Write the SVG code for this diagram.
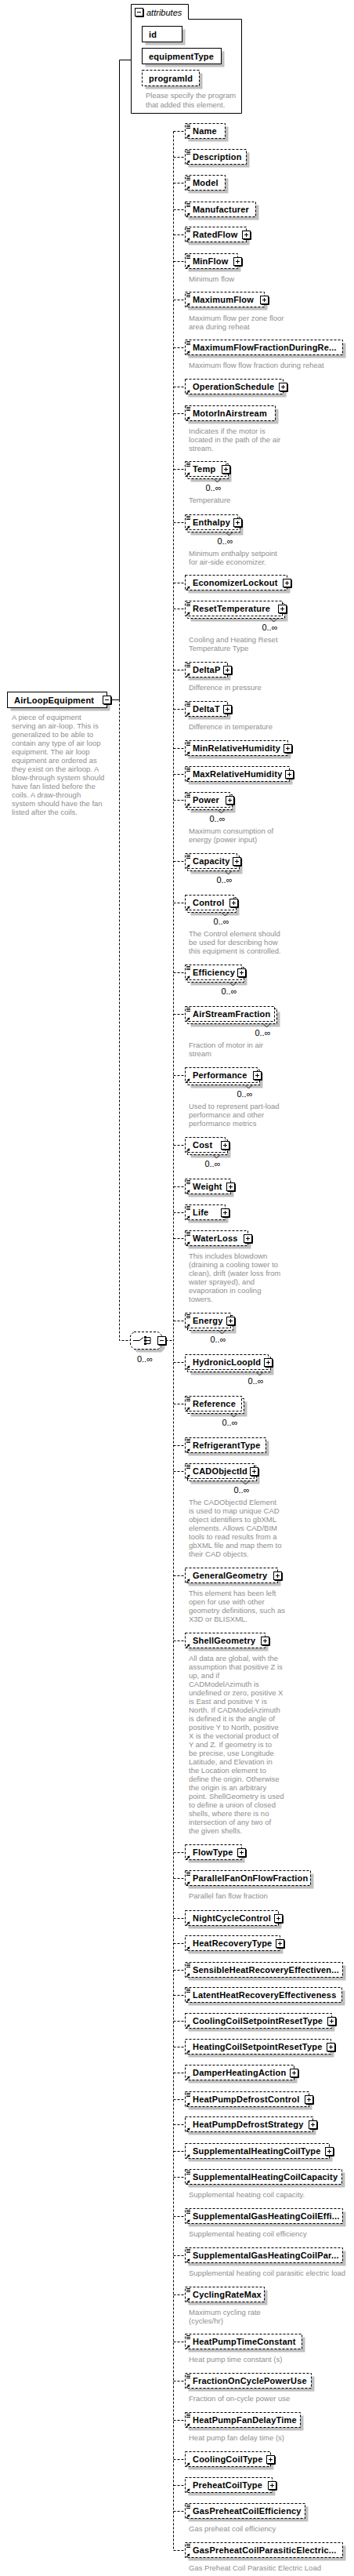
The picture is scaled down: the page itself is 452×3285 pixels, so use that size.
<svg xmlns="http://www.w3.org/2000/svg" width="452" height="3285" viewBox="0 0 452 3285">
<style>
.sh{fill:#c0c0c0}
.bx{fill:#fff;stroke:#000;stroke-width:1}
.d{stroke-dasharray:3 2}
.l{font-family:"Liberation Sans",Arial,sans-serif;font-size:11px;font-weight:bold;letter-spacing:0.2px;fill:#000}
.ds{font-family:"Liberation Sans",Arial,sans-serif;font-size:9.5px;fill:#8f8f8f}
.m{font-family:"Liberation Sans",Arial,sans-serif;font-size:11px;fill:#000;text-anchor:end}
.it{font-family:"Liberation Sans",Arial,sans-serif;font-size:11px;font-style:italic;fill:#000}
.c{fill:none;stroke:#000;stroke-width:1}
.nt{fill:none;stroke:#000;stroke-width:0.8}
</style>
<defs>
<g id="ln"><path d="M0 1.5h5M0 3.5h5M0 5.5h5" stroke="#000" stroke-width="1"/></g>
<g id="ar"><path d="M1 6L4 3" stroke="#000" stroke-width="1.3"/><path d="M5.5 1.5L2 2.2L4.8 5Z" fill="#000"/></g>
<g id="pl"><rect x="0.5" y="0.5" width="10" height="10" fill="#fff" stroke="#000"/><path d="M1.5 11.5H11.5V1.5" fill="none" stroke="#000"/><path d="M3 5.5h5M5.5 3v5" stroke="#000"/></g>
<g id="mn"><rect x="0.5" y="0.5" width="10" height="10" fill="#fff" stroke="#000"/><path d="M1.5 11.5H11.5V1.5" fill="none" stroke="#000"/><path d="M3 5.5h5" stroke="#000"/></g>
</defs>
<rect width="452" height="3285" fill="#fff"/>
<g id="connectors">
<path class="c" d="M152.5 76.5H167.5M152.5 76.5V892.5M136.5 892.5H152.5"/>
<path class="c d" d="M152.5 892.5V1709.5H166.5M211.5 1709.5H221.5"/>
<path class="c d" d="M221.5 167.5V3252.5"/>
<path class="c d" d="M221.5 167.5H236.5M221.5 200.5H236.5M221.5 233.5H236.5M221.5 267.5H236.5M221.5 299.5H236.5M221.5 333.5H236.5M221.5 382.5H236.5M221.5 443.5H236.5M221.5 493.5H236.5M221.5 527.5H236.5M221.5 598.5H236.5M221.5 666.5H236.5M221.5 743.5H236.5M221.5 776.5H236.5M221.5 854.5H236.5M221.5 904.5H236.5M221.5 954.5H236.5M221.5 987.5H236.5M221.5 1020.5H236.5M221.5 1098.5H236.5M221.5 1151.5H236.5M221.5 1240.5H236.5M221.5 1293.5H236.5M221.5 1371.5H236.5M221.5 1460.5H236.5M221.5 1513.5H236.5M221.5 1546.5H236.5M221.5 1579.5H236.5M221.5 1684.5H236.5M221.5 1737.5H236.5M221.5 1790.5H236.5M221.5 1843.5H236.5M221.5 1876.5H236.5M221.5 2009.5H236.5M221.5 2092.5H236.5M221.5 2362.5H236.5M221.5 2395.5H236.5M221.5 2446.5H236.5M221.5 2478.5H236.5M221.5 2512.5H236.5M221.5 2544.5H236.5M221.5 2577.5H236.5M221.5 2610.5H236.5M221.5 2643.5H236.5M221.5 2677.5H236.5M221.5 2709.5H236.5M221.5 2743.5H236.5M221.5 2776.5H236.5M221.5 2826.5H236.5M221.5 2876.5H236.5M221.5 2926.5H236.5M221.5 2986.5H236.5M221.5 3036.5H236.5M221.5 3086.5H236.5M221.5 3136.5H236.5M221.5 3169.5H236.5M221.5 3202.5H236.5M221.5 3252.5H236.5"/>
</g>
<g id="attributes">
<path d="M167.5 5.5H240.5V24.5H308.5V144.5H167.5Z" fill="#fff" stroke="#000"/>
<use href="#mn" x="172" y="10"/>
<text class="it" x="187" y="19.5">attributes</text>
<g id="attr-id"><rect class="sh" x="185.5" y="37.5" width="51" height="20"/><rect class="bx" x="181.5" y="33.5" width="51" height="20"/><text class="l" x="190" y="47.5">id</text></g>
<g id="attr-equipmentType"><rect class="sh" x="185.5" y="65.5" width="101" height="20"/><rect class="bx" x="181.5" y="61.5" width="101" height="20"/><text class="l" x="190" y="75.5">equipmentType</text></g>
<g id="attr-programId"><rect class="sh" x="185.5" y="93.5" width="73" height="20"/><rect class="bx d" x="181.5" y="89.5" width="73" height="20"/><text class="l" x="190" y="103.5">programId</text></g>
<text class="ds" x="186" y="124.7">Please specify the program</text>
<text class="ds" x="186" y="137.3">that added this element.</text>
</g>
<g id="AirLoopEquipment">
<rect class="sh" x="13.5" y="886.5" width="127" height="20"/>
<rect class="bx" x="9.5" y="882.5" width="127" height="20"/>
<text class="l" x="18" y="896.5">AirLoopEquipment</text>
<use href="#mn" x="131" y="887"/>
<text class="ds" x="15" y="917.5">A piece of equipment</text>
<text class="ds" x="15" y="928.5">serving an air-loop. This is</text>
<text class="ds" x="15" y="939.5">generalized to be able to</text>
<text class="ds" x="15" y="950.5">contain any type of air loop</text>
<text class="ds" x="15" y="961.5">equipment. The air loop</text>
<text class="ds" x="15" y="972.5">equipment are ordered as</text>
<text class="ds" x="15" y="983.5">they exist on the airloop. A</text>
<text class="ds" x="15" y="994.5">blow-through system should</text>
<text class="ds" x="15" y="1005.5">have fan listed before the</text>
<text class="ds" x="15" y="1016.5">coils. A draw-through</text>
<text class="ds" x="15" y="1027.5">system should have the fan</text>
<text class="ds" x="15" y="1038.5">listed after the coils.</text>
</g>
<g id="choice">
<polygon class="sh" points="175,1702.5 206,1702.5 210.5,1707 210.5,1720 206,1724.5 175,1724.5 170.5,1720 170.5,1707"/>
<polygon class="bx d" points="171,1698.5 202,1698.5 206.5,1703 206.5,1716 202,1720.5 171,1720.5 166.5,1716 166.5,1703"/>
<path d="M170 1709.5h8l5-4" fill="none" stroke="#000"/>
<rect x="184" y="1704" width="3" height="3" fill="#000"/><rect x="184" y="1708" width="3" height="3" fill="#000"/><rect x="184" y="1712" width="3" height="3" fill="#000"/>
<path d="M187 1705.5h5M187 1709.5h5M187 1713.5h5M192 1705.5v8" fill="none" stroke="#000"/>
<use href="#mn" x="201" y="1704"/>
<text class="m" x="195" y="1737">0..∞</text>
</g>
<g id="el-Name"><rect class="sh" x="240.5" y="161.5" width="51" height="19"/><rect class="bx d" x="236.5" y="157.5" width="51" height="19"/><use href="#ln" x="238" y="158"/><use href="#ar" x="237" y="170"/><text class="l" x="246" y="171">Name</text></g>
<g id="el-Description"><rect class="sh" x="240.5" y="194.5" width="78" height="19"/><rect class="bx d" x="236.5" y="190.5" width="78" height="19"/><use href="#ln" x="238" y="191"/><use href="#ar" x="237" y="203"/><text class="l" x="246" y="204">Description</text></g>
<g id="el-Model"><rect class="sh" x="240.5" y="227.5" width="51" height="19"/><rect class="bx d" x="236.5" y="223.5" width="51" height="19"/><use href="#ln" x="238" y="224"/><use href="#ar" x="237" y="236"/><text class="l" x="246" y="237">Model</text></g>
<g id="el-Manufacturer"><rect class="sh" x="240.5" y="261.5" width="90" height="19"/><rect class="bx d" x="236.5" y="257.5" width="90" height="19"/><use href="#ln" x="238" y="258"/><use href="#ar" x="237" y="270"/><text class="l" x="246" y="271">Manufacturer</text></g>
<g id="el-RatedFlow"><rect class="sh" x="240.5" y="293.5" width="78" height="19"/><rect class="bx d" x="236.5" y="289.5" width="78" height="19"/><use href="#ln" x="238" y="290"/><use href="#ar" x="237" y="302"/><text class="l" x="246" y="303">RatedFlow</text><use href="#pl" x="309" y="294"/></g>
<g id="el-MinFlow"><rect class="sh" x="240.5" y="327.5" width="67" height="19"/><rect class="bx d" x="236.5" y="323.5" width="67" height="19"/><use href="#ln" x="238" y="324"/><use href="#ar" x="237" y="336"/><text class="l" x="246" y="337">MinFlow</text><use href="#pl" x="298" y="328"/><text class="ds" x="241" y="358.5">Minimum flow</text></g>
<g id="el-MaximumFlow"><rect class="sh" x="240.5" y="376.5" width="101" height="19"/><rect class="bx d" x="236.5" y="372.5" width="101" height="19"/><use href="#ln" x="238" y="373"/><use href="#ar" x="237" y="385"/><text class="l" x="246" y="386">MaximumFlow</text><use href="#pl" x="332" y="377"/><text class="ds" x="241" y="408.5">Maximum flow per zone floor</text><text class="ds" x="241" y="419.5">area during reheat</text></g>
<g id="el-MaximumFlowFractionDuringReheat"><rect class="sh" x="240.5" y="437.5" width="201" height="19"/><rect class="bx d" x="236.5" y="433.5" width="201" height="19"/><use href="#ln" x="238" y="434"/><use href="#ar" x="237" y="446"/><text class="l" x="246" y="447">MaximumFlowFractionDuringRe...</text><text class="ds" x="241" y="468.5">Maximum flow flow fraction during reheat</text></g>
<g id="el-OperationSchedule"><rect class="sh" x="240.5" y="487.5" width="125" height="19"/><rect class="bx d" x="236.5" y="483.5" width="125" height="19"/><use href="#ar" x="237" y="496"/><text class="l" x="246" y="497">OperationSchedule</text><use href="#pl" x="356" y="488"/></g>
<g id="el-MotorInAirstream"><rect class="sh" x="240.5" y="521.5" width="115" height="19"/><rect class="bx d" x="236.5" y="517.5" width="115" height="19"/><use href="#ln" x="238" y="518"/><use href="#ar" x="237" y="530"/><text class="l" x="246" y="531">MotorInAirstream</text><text class="ds" x="241" y="552.5">Indicates if the motor is</text><text class="ds" x="241" y="563.5">located in the path of the air</text><text class="ds" x="241" y="574.5">stream.</text></g>
<g id="el-Temp"><rect class="sh" x="243.5" y="595.5" width="52" height="19"/><rect class="bx d" x="239.5" y="591.5" width="52" height="19"/><rect class="bx d" x="236.5" y="588.5" width="52" height="19"/><use href="#ln" x="238" y="589"/><use href="#ar" x="237" y="601"/><text class="l" x="246" y="602">Temp</text><use href="#pl" x="283" y="593"/><path class="nt" d="M273.5 611l4 4 4-4"/><text class="m" x="282.5" y="626">0..∞</text><text class="ds" x="241" y="640.5">Temperature</text></g>
<g id="el-Enthalpy"><rect class="sh" x="243.5" y="663.5" width="67" height="19"/><rect class="bx d" x="239.5" y="659.5" width="67" height="19"/><rect class="bx d" x="236.5" y="656.5" width="67" height="19"/><use href="#ln" x="238" y="657"/><use href="#ar" x="237" y="669"/><text class="l" x="246" y="670">Enthalpy</text><use href="#pl" x="298" y="661"/><path class="nt" d="M288.5 679l4 4 4-4"/><text class="m" x="297.5" y="694">0..∞</text><text class="ds" x="241" y="708.5">Minimum enthalpy setpoint</text><text class="ds" x="241" y="719.5">for air-side economizer.</text></g>
<g id="el-EconomizerLockout"><rect class="sh" x="240.5" y="737.5" width="130" height="19"/><rect class="bx d" x="236.5" y="733.5" width="130" height="19"/><use href="#ar" x="237" y="746"/><text class="l" x="246" y="747">EconomizerLockout</text><use href="#pl" x="361" y="738"/></g>
<g id="el-ResetTemperature"><rect class="sh" x="243.5" y="773.5" width="124" height="19"/><rect class="bx d" x="239.5" y="769.5" width="124" height="19"/><rect class="bx d" x="236.5" y="766.5" width="124" height="19"/><use href="#ln" x="238" y="767"/><use href="#ar" x="237" y="779"/><text class="l" x="246" y="780">ResetTemperature</text><use href="#pl" x="355" y="771"/><path class="nt" d="M345.5 789l4 4 4-4"/><text class="m" x="354.5" y="804">0..∞</text><text class="ds" x="241" y="818.5">Cooling and Heating Reset</text><text class="ds" x="241" y="829.5">Temperature Type</text></g>
<g id="el-DeltaP"><rect class="sh" x="240.5" y="848.5" width="54" height="19"/><rect class="bx d" x="236.5" y="844.5" width="54" height="19"/><use href="#ln" x="238" y="845"/><use href="#ar" x="237" y="857"/><text class="l" x="246" y="858">DeltaP</text><use href="#pl" x="285" y="849"/><text class="ds" x="241" y="879.5">Difference in pressure</text></g>
<g id="el-DeltaT"><rect class="sh" x="240.5" y="898.5" width="54" height="19"/><rect class="bx d" x="236.5" y="894.5" width="54" height="19"/><use href="#ln" x="238" y="895"/><use href="#ar" x="237" y="907"/><text class="l" x="246" y="908">DeltaT</text><use href="#pl" x="285" y="899"/><text class="ds" x="241" y="929.5">Difference in temperature</text></g>
<g id="el-MinRelativeHumidity"><rect class="sh" x="240.5" y="948.5" width="131" height="19"/><rect class="bx d" x="236.5" y="944.5" width="131" height="19"/><use href="#ln" x="238" y="945"/><use href="#ar" x="237" y="957"/><text class="l" x="246" y="958">MinRelativeHumidity</text><use href="#pl" x="362" y="949"/></g>
<g id="el-MaxRelativeHumidity"><rect class="sh" x="240.5" y="981.5" width="133" height="19"/><rect class="bx d" x="236.5" y="977.5" width="133" height="19"/><use href="#ln" x="238" y="978"/><use href="#ar" x="237" y="990"/><text class="l" x="246" y="991">MaxRelativeHumidity</text><use href="#pl" x="364" y="982"/></g>
<g id="el-Power"><rect class="sh" x="243.5" y="1017.5" width="57" height="19"/><rect class="bx d" x="239.5" y="1013.5" width="57" height="19"/><rect class="bx d" x="236.5" y="1010.5" width="57" height="19"/><use href="#ln" x="238" y="1011"/><use href="#ar" x="237" y="1023"/><text class="l" x="246" y="1024">Power</text><use href="#pl" x="288" y="1015"/><path class="nt" d="M278.5 1033l4 4 4-4"/><text class="m" x="287.5" y="1048">0..∞</text><text class="ds" x="241" y="1062.5">Maximum consumption of</text><text class="ds" x="241" y="1073.5">energy (power input)</text></g>
<g id="el-Capacity"><rect class="sh" x="243.5" y="1095.5" width="66" height="19"/><rect class="bx d" x="239.5" y="1091.5" width="66" height="19"/><rect class="bx d" x="236.5" y="1088.5" width="66" height="19"/><use href="#ln" x="238" y="1089"/><use href="#ar" x="237" y="1101"/><text class="l" x="246" y="1102">Capacity</text><use href="#pl" x="297" y="1093"/><path class="nt" d="M287.5 1111l4 4 4-4"/><text class="m" x="296.5" y="1126">0..∞</text></g>
<g id="el-Control"><rect class="sh" x="243.5" y="1148.5" width="62" height="19"/><rect class="bx d" x="239.5" y="1144.5" width="62" height="19"/><rect class="bx d" x="236.5" y="1141.5" width="62" height="19"/><use href="#ar" x="237" y="1154"/><text class="l" x="246" y="1155">Control</text><use href="#pl" x="293" y="1146"/><path class="nt" d="M283.5 1164l4 4 4-4"/><text class="m" x="292.5" y="1179">0..∞</text><text class="ds" x="241" y="1193.5">The Control element should</text><text class="ds" x="241" y="1204.5">be used for describing how</text><text class="ds" x="241" y="1215.5">this equipment is controlled.</text></g>
<g id="el-Efficiency"><rect class="sh" x="243.5" y="1237.5" width="72" height="19"/><rect class="bx d" x="239.5" y="1233.5" width="72" height="19"/><rect class="bx d" x="236.5" y="1230.5" width="72" height="19"/><use href="#ln" x="238" y="1231"/><use href="#ar" x="237" y="1243"/><text class="l" x="246" y="1244">Efficiency</text><use href="#pl" x="303" y="1235"/><path class="nt" d="M293.5 1253l4 4 4-4"/><text class="m" x="302.5" y="1268">0..∞</text></g>
<g id="el-AirStreamFraction"><rect class="sh" x="243.5" y="1290.5" width="114" height="19"/><rect class="bx d" x="239.5" y="1286.5" width="114" height="19"/><rect class="bx d" x="236.5" y="1283.5" width="114" height="19"/><use href="#ln" x="238" y="1284"/><use href="#ar" x="237" y="1296"/><text class="l" x="246" y="1297">AirStreamFraction</text><path class="nt" d="M336.5 1306l4 4 4-4"/><text class="m" x="345.5" y="1321">0..∞</text><text class="ds" x="241" y="1335.5">Fraction of motor in air</text><text class="ds" x="241" y="1346.5">stream</text></g>
<g id="el-Performance"><rect class="sh" x="243.5" y="1368.5" width="92" height="19"/><rect class="bx d" x="239.5" y="1364.5" width="92" height="19"/><rect class="bx d" x="236.5" y="1361.5" width="92" height="19"/><use href="#ar" x="237" y="1374"/><text class="l" x="246" y="1375">Performance</text><use href="#pl" x="323" y="1366"/><path class="nt" d="M313.5 1384l4 4 4-4"/><text class="m" x="322.5" y="1399">0..∞</text><text class="ds" x="241" y="1413.5">Used to represent part-load</text><text class="ds" x="241" y="1424.5">performance and other</text><text class="ds" x="241" y="1435.5">performance metrics</text></g>
<g id="el-Cost"><rect class="sh" x="243.5" y="1457.5" width="51" height="19"/><rect class="bx d" x="239.5" y="1453.5" width="51" height="19"/><rect class="bx d" x="236.5" y="1450.5" width="51" height="19"/><use href="#ar" x="237" y="1463"/><text class="l" x="246" y="1464">Cost</text><use href="#pl" x="282" y="1455"/><path class="nt" d="M272.5 1473l4 4 4-4"/><text class="m" x="281.5" y="1488">0..∞</text></g>
<g id="el-Weight"><rect class="sh" x="240.5" y="1507.5" width="58" height="19"/><rect class="bx d" x="236.5" y="1503.5" width="58" height="19"/><use href="#ln" x="238" y="1504"/><use href="#ar" x="237" y="1516"/><text class="l" x="246" y="1517">Weight</text><use href="#pl" x="289" y="1508"/></g>
<g id="el-Life"><rect class="sh" x="240.5" y="1540.5" width="51" height="19"/><rect class="bx d" x="236.5" y="1536.5" width="51" height="19"/><use href="#ln" x="238" y="1537"/><use href="#ar" x="237" y="1549"/><text class="l" x="246" y="1550">Life</text><use href="#pl" x="282" y="1541"/></g>
<g id="el-WaterLoss"><rect class="sh" x="240.5" y="1573.5" width="80" height="19"/><rect class="bx d" x="236.5" y="1569.5" width="80" height="19"/><use href="#ln" x="238" y="1570"/><use href="#ar" x="237" y="1582"/><text class="l" x="246" y="1583">WaterLoss</text><use href="#pl" x="311" y="1574"/><text class="ds" x="241" y="1604.5">This includes blowdown</text><text class="ds" x="241" y="1615.5">(draining a cooling tower to</text><text class="ds" x="241" y="1626.5">clean), drift (water loss from</text><text class="ds" x="241" y="1637.5">water sprayed), and</text><text class="ds" x="241" y="1648.5">evaporation in cooling</text><text class="ds" x="241" y="1659.5">towers.</text></g>
<g id="el-Energy"><rect class="sh" x="243.5" y="1681.5" width="58" height="19"/><rect class="bx d" x="239.5" y="1677.5" width="58" height="19"/><rect class="bx d" x="236.5" y="1674.5" width="58" height="19"/><use href="#ln" x="238" y="1675"/><use href="#ar" x="237" y="1687"/><text class="l" x="246" y="1688">Energy</text><use href="#pl" x="289" y="1679"/><path class="nt" d="M279.5 1697l4 4 4-4"/><text class="m" x="288.5" y="1712">0..∞</text></g>
<g id="el-HydronicLoopId"><rect class="sh" x="243.5" y="1734.5" width="106" height="19"/><rect class="bx d" x="239.5" y="1730.5" width="106" height="19"/><rect class="bx d" x="236.5" y="1727.5" width="106" height="19"/><use href="#ar" x="237" y="1740"/><text class="l" x="246" y="1741">HydronicLoopId</text><use href="#pl" x="337" y="1732"/><path class="nt" d="M327.5 1750l4 4 4-4"/><text class="m" x="336.5" y="1765">0..∞</text></g>
<g id="el-Reference"><rect class="sh" x="243.5" y="1787.5" width="72" height="19"/><rect class="bx d" x="239.5" y="1783.5" width="72" height="19"/><rect class="bx d" x="236.5" y="1780.5" width="72" height="19"/><use href="#ln" x="238" y="1781"/><use href="#ar" x="237" y="1793"/><text class="l" x="246" y="1794">Reference</text><path class="nt" d="M294.5 1803l4 4 4-4"/><text class="m" x="303.5" y="1818">0..∞</text></g>
<g id="el-RefrigerantType"><rect class="sh" x="240.5" y="1837.5" width="103" height="19"/><rect class="bx d" x="236.5" y="1833.5" width="103" height="19"/><use href="#ln" x="238" y="1834"/><use href="#ar" x="237" y="1846"/><text class="l" x="246" y="1847">RefrigerantType</text></g>
<g id="el-CADObjectId"><rect class="sh" x="243.5" y="1873.5" width="88" height="19"/><rect class="bx d" x="239.5" y="1869.5" width="88" height="19"/><rect class="bx d" x="236.5" y="1866.5" width="88" height="19"/><use href="#ln" x="238" y="1867"/><use href="#ar" x="237" y="1879"/><text class="l" x="246" y="1880">CADObjectId</text><use href="#pl" x="319" y="1871"/><path class="nt" d="M309.5 1889l4 4 4-4"/><text class="m" x="318.5" y="1904">0..∞</text><text class="ds" x="241" y="1918.5">The CADObjectId Element</text><text class="ds" x="241" y="1929.5">is used to map unique CAD</text><text class="ds" x="241" y="1940.5">object identifiers to gbXML</text><text class="ds" x="241" y="1951.5">elements. Allows CAD/BIM</text><text class="ds" x="241" y="1962.5">tools to read results from a</text><text class="ds" x="241" y="1973.5">gbXML file and map them to</text><text class="ds" x="241" y="1984.5">their CAD objects.</text></g>
<g id="el-GeneralGeometry"><rect class="sh" x="240.5" y="2003.5" width="118" height="19"/><rect class="bx d" x="236.5" y="1999.5" width="118" height="19"/><use href="#ar" x="237" y="2012"/><text class="l" x="246" y="2013">GeneralGeometry</text><use href="#pl" x="349" y="2004"/><text class="ds" x="241" y="2034.5">This element has been left</text><text class="ds" x="241" y="2045.5">open for use with other</text><text class="ds" x="241" y="2056.5">geometry definitions, such as</text><text class="ds" x="241" y="2067.5">X3D or BLISXML.</text></g>
<g id="el-ShellGeometry"><rect class="sh" x="240.5" y="2086.5" width="102" height="19"/><rect class="bx d" x="236.5" y="2082.5" width="102" height="19"/><use href="#ar" x="237" y="2095"/><text class="l" x="246" y="2096">ShellGeometry</text><use href="#pl" x="333" y="2087"/>
<text class="ds" x="241" y="2117.5">All data are global, with the</text>
<text class="ds" x="241" y="2128.5">assumption that positive Z is</text>
<text class="ds" x="241" y="2139.5">up, and if</text>
<text class="ds" x="241" y="2150.5">CADModelAzimuth is</text>
<text class="ds" x="241" y="2161.5">undefined or zero, positive X</text>
<text class="ds" x="241" y="2172.5">is East and positive Y is</text>
<text class="ds" x="241" y="2183.5">North. If CADModelAzimuth</text>
<text class="ds" x="241" y="2194.5">is defined it is the angle of</text>
<text class="ds" x="241" y="2205.5">positive Y to North, positive</text>
<text class="ds" x="241" y="2216.5">X is the vectorial product of</text>
<text class="ds" x="241" y="2227.5">Y and Z. If geometry is to</text>
<text class="ds" x="241" y="2238.5">be precise, use Longitude</text>
<text class="ds" x="241" y="2249.5">Latitude, and Elevation in</text>
<text class="ds" x="241" y="2260.5">the Location element to</text>
<text class="ds" x="241" y="2271.5">define the origin. Otherwise</text>
<text class="ds" x="241" y="2282.5">the origin is an arbitrary</text>
<text class="ds" x="241" y="2293.5">point. ShellGeometry is used</text>
<text class="ds" x="241" y="2304.5">to define a union of closed</text>
<text class="ds" x="241" y="2315.5">shells, where there is no</text>
<text class="ds" x="241" y="2326.5">intersection of any two of</text>
<text class="ds" x="241" y="2337.5">the given shells.</text></g>
<g id="el-FlowType"><rect class="sh" x="240.5" y="2356.5" width="72" height="19"/><rect class="bx d" x="236.5" y="2352.5" width="72" height="19"/><use href="#ar" x="237" y="2365"/><text class="l" x="246" y="2366">FlowType</text><use href="#pl" x="303" y="2357"/></g>
<g id="el-ParallelFanOnFlowFraction"><rect class="sh" x="240.5" y="2389.5" width="160" height="19"/><rect class="bx d" x="236.5" y="2385.5" width="160" height="19"/><use href="#ln" x="238" y="2386"/><use href="#ar" x="237" y="2398"/><text class="l" x="246" y="2399">ParallelFanOnFlowFraction</text><text class="ds" x="241" y="2420.5">Parallel fan flow fraction</text></g>
<g id="el-NightCycleControl"><rect class="sh" x="240.5" y="2440.5" width="119" height="19"/><rect class="bx d" x="236.5" y="2436.5" width="119" height="19"/><use href="#ar" x="237" y="2449"/><text class="l" x="246" y="2450">NightCycleControl</text><use href="#pl" x="350" y="2441"/></g>
<g id="el-HeatRecoveryType"><rect class="sh" x="240.5" y="2472.5" width="121" height="19"/><rect class="bx d" x="236.5" y="2468.5" width="121" height="19"/><use href="#ar" x="237" y="2481"/><text class="l" x="246" y="2482">HeatRecoveryType</text><use href="#pl" x="352" y="2473"/></g>
<g id="el-SensibleHeatRecoveryEffectiveness"><rect class="sh" x="240.5" y="2506.5" width="201" height="19"/><rect class="bx d" x="236.5" y="2502.5" width="201" height="19"/><use href="#ln" x="238" y="2503"/><use href="#ar" x="237" y="2515"/><text class="l" x="246" y="2516">SensibleHeatRecoveryEffectiven...</text></g>
<g id="el-LatentHeatRecoveryEffectiveness"><rect class="sh" x="240.5" y="2538.5" width="200" height="19"/><rect class="bx d" x="236.5" y="2534.5" width="200" height="19"/><use href="#ln" x="238" y="2535"/><use href="#ar" x="237" y="2547"/><text class="l" x="246" y="2548">LatentHeatRecoveryEffectiveness</text></g>
<g id="el-CoolingCoilSetpointResetType"><rect class="sh" x="240.5" y="2571.5" width="187" height="19"/><rect class="bx d" x="236.5" y="2567.5" width="187" height="19"/><use href="#ar" x="237" y="2580"/><text class="l" x="246" y="2581">CoolingCoilSetpointResetType</text><use href="#pl" x="418" y="2572"/></g>
<g id="el-HeatingCoilSetpointResetType"><rect class="sh" x="240.5" y="2604.5" width="186" height="19"/><rect class="bx d" x="236.5" y="2600.5" width="186" height="19"/><use href="#ar" x="237" y="2613"/><text class="l" x="246" y="2614">HeatingCoilSetpointResetType</text><use href="#pl" x="417" y="2605"/></g>
<g id="el-DamperHeatingAction"><rect class="sh" x="240.5" y="2637.5" width="139" height="19"/><rect class="bx d" x="236.5" y="2633.5" width="139" height="19"/><use href="#ar" x="237" y="2646"/><text class="l" x="246" y="2647">DamperHeatingAction</text><use href="#pl" x="370" y="2638"/></g>
<g id="el-HeatPumpDefrostControl"><rect class="sh" x="240.5" y="2671.5" width="158" height="19"/><rect class="bx d" x="236.5" y="2667.5" width="158" height="19"/><use href="#ln" x="238" y="2668"/><use href="#ar" x="237" y="2680"/><text class="l" x="246" y="2681">HeatPumpDefrostControl</text><use href="#pl" x="389" y="2672"/></g>
<g id="el-HeatPumpDefrostStrategy"><rect class="sh" x="240.5" y="2703.5" width="163" height="19"/><rect class="bx d" x="236.5" y="2699.5" width="163" height="19"/><use href="#ar" x="237" y="2712"/><text class="l" x="246" y="2713">HeatPumpDefrostStrategy</text><use href="#pl" x="394" y="2704"/></g>
<g id="el-SupplementalHeatingCoilType"><rect class="sh" x="240.5" y="2737.5" width="184" height="19"/><rect class="bx d" x="236.5" y="2733.5" width="184" height="19"/><use href="#ar" x="237" y="2746"/><text class="l" x="246" y="2747">SupplementalHeatingCoilType</text><use href="#pl" x="415" y="2738"/></g>
<g id="el-SupplementalHeatingCoilCapacity"><rect class="sh" x="240.5" y="2770.5" width="200" height="19"/><rect class="bx d" x="236.5" y="2766.5" width="200" height="19"/><use href="#ln" x="238" y="2767"/><use href="#ar" x="237" y="2779"/><text class="l" x="246" y="2780">SupplementalHeatingCoilCapacity</text><text class="ds" x="241" y="2801.5">Supplemental heating coil capacity.</text></g>
<g id="el-SupplementalGasHeatingCoilEfficiency"><rect class="sh" x="240.5" y="2820.5" width="201" height="19"/><rect class="bx d" x="236.5" y="2816.5" width="201" height="19"/><use href="#ln" x="238" y="2817"/><use href="#ar" x="237" y="2829"/><text class="l" x="246" y="2830">SupplementalGasHeatingCoilEffi...</text><text class="ds" x="241" y="2851.5">Supplemental heating coil efficiency</text></g>
<g id="el-SupplementalGasHeatingCoilParasitic"><rect class="sh" x="240.5" y="2870.5" width="201" height="19"/><rect class="bx d" x="236.5" y="2866.5" width="201" height="19"/><use href="#ln" x="238" y="2867"/><use href="#ar" x="237" y="2879"/><text class="l" x="246" y="2880">SupplementalGasHeatingCoilPar...</text><text class="ds" x="241" y="2901.5">Supplemental heating coil parasitic electric load</text></g>
<g id="el-CyclingRateMax"><rect class="sh" x="240.5" y="2920.5" width="101" height="19"/><rect class="bx d" x="236.5" y="2916.5" width="101" height="19"/><use href="#ln" x="238" y="2917"/><use href="#ar" x="237" y="2929"/><text class="l" x="246" y="2930">CyclingRateMax</text><text class="ds" x="241" y="2951.5">Maximum cycling rate</text><text class="ds" x="241" y="2962.5">(cycles/hr)</text></g>
<g id="el-HeatPumpTimeConstant"><rect class="sh" x="240.5" y="2980.5" width="149" height="19"/><rect class="bx d" x="236.5" y="2976.5" width="149" height="19"/><use href="#ln" x="238" y="2977"/><use href="#ar" x="237" y="2989"/><text class="l" x="246" y="2990">HeatPumpTimeConstant</text><text class="ds" x="241" y="3011.5">Heat pump time constant (s)</text></g>
<g id="el-FractionOnCyclePowerUse"><rect class="sh" x="240.5" y="3030.5" width="161" height="19"/><rect class="bx d" x="236.5" y="3026.5" width="161" height="19"/><use href="#ln" x="238" y="3027"/><use href="#ar" x="237" y="3039"/><text class="l" x="246" y="3040">FractionOnCyclePowerUse</text><text class="ds" x="241" y="3061.5">Fraction of on-cycle power use</text></g>
<g id="el-HeatPumpFanDelayTime"><rect class="sh" x="240.5" y="3080.5" width="147" height="19"/><rect class="bx d" x="236.5" y="3076.5" width="147" height="19"/><use href="#ln" x="238" y="3077"/><use href="#ar" x="237" y="3089"/><text class="l" x="246" y="3090">HeatPumpFanDelayTime</text><text class="ds" x="241" y="3111.5">Heat pump fan delay time (s)</text></g>
<g id="el-CoolingCoilType"><rect class="sh" x="240.5" y="3130.5" width="109" height="19"/><rect class="bx d" x="236.5" y="3126.5" width="109" height="19"/><use href="#ar" x="237" y="3139"/><text class="l" x="246" y="3140">CoolingCoilType</text><use href="#pl" x="340" y="3131"/></g>
<g id="el-PreheatCoilType"><rect class="sh" x="240.5" y="3163.5" width="111" height="19"/><rect class="bx d" x="236.5" y="3159.5" width="111" height="19"/><use href="#ar" x="237" y="3172"/><text class="l" x="246" y="3173">PreheatCoilType</text><use href="#pl" x="342" y="3164"/></g>
<g id="el-GasPreheatCoilEfficiency"><rect class="sh" x="240.5" y="3196.5" width="153" height="19"/><rect class="bx d" x="236.5" y="3192.5" width="153" height="19"/><use href="#ln" x="238" y="3193"/><use href="#ar" x="237" y="3205"/><text class="l" x="246" y="3206">GasPreheatCoilEfficiency</text><text class="ds" x="241" y="3227.5">Gas preheat coil efficiency</text></g>
<g id="el-GasPreheatCoilParasiticElectric"><rect class="sh" x="240.5" y="3246.5" width="201" height="19"/><rect class="bx d" x="236.5" y="3242.5" width="201" height="19"/><use href="#ln" x="238" y="3243"/><use href="#ar" x="237" y="3255"/><text class="l" x="246" y="3256">GasPreheatCoilParasiticElectric...</text><text class="ds" x="241" y="3277.5">Gas Preheat Coil Parasitic Electric Load</text></g>
</svg>
